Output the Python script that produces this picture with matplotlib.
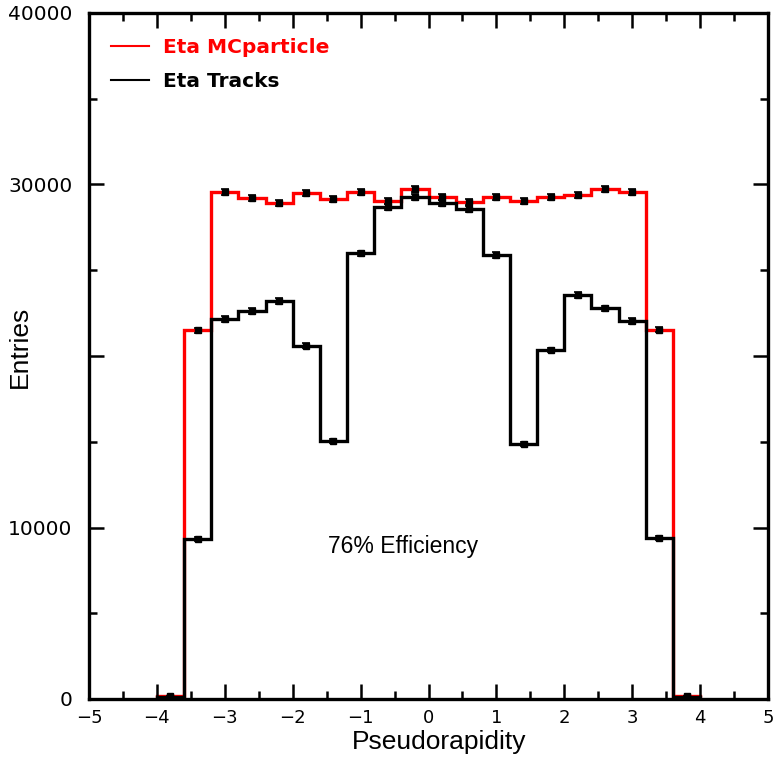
import numpy as np
import matplotlib
matplotlib.use("Agg")
import matplotlib.pyplot as plt
from matplotlib.ticker import MultipleLocator
from matplotlib.lines import Line2D

# bin edges in pseudorapidity (20 bins of 0.4)
edges = [-4.0, -3.6, -3.2, -2.8, -2.4, -2.0, -1.6, -1.2, -0.8, -0.4, 0.0,
         0.4, 0.8, 1.2, 1.6, 2.0, 2.4, 2.8, 3.2, 3.6, 4.0]

mc_counts = [150, 21500, 29540, 29200, 28900, 29490, 29160, 29540, 29060, 29720,
             29290, 29000, 29250, 29040, 29250, 29370, 29720, 29540, 21520, 150]
track_counts = [90, 9330, 22160, 22620, 23210, 20600, 15050, 25990, 28670, 29250,
                28900, 28550, 25890, 14860, 20350, 23560, 22780, 22040, 9390, 90]

ytick_vals = [0, 10000, 20000, 30000, 40000]
ytick_labels = ["0", "10000", "", "30000", "40000"]

edges = np.array(edges)
centers = 0.5 * (edges[:-1] + edges[1:])
mc = np.array(mc_counts, dtype=float)
tr = np.array(track_counts, dtype=float)

fig = plt.figure(figsize=(7.75, 7.57), dpi=100)
ax = fig.add_axes([89 / 775, 1 - 699 / 757, 679 / 775, 686 / 757])

ax.stairs(mc, edges, color="red", lw=2.4, baseline=0)
ax.stairs(tr, edges, color="black", lw=2.4, baseline=0)

ax.errorbar(centers, mc, yerr=np.sqrt(mc), fmt="s", color="black", ms=5,
            capsize=3, elinewidth=1.2, capthick=1.2)
ax.errorbar(centers, tr, yerr=np.sqrt(tr), fmt="s", color="black", ms=5,
            capsize=3, elinewidth=1.2, capthick=1.2)

ax.set_xlim(-5, 5)
ax.set_ylim(0, 40000)

ax.xaxis.set_major_locator(MultipleLocator(1))
ax.xaxis.set_minor_locator(MultipleLocator(0.5))
ax.set_yticks(ytick_vals)
ax.set_yticklabels(ytick_labels)
ax.yaxis.set_minor_locator(MultipleLocator(5000))

ax.tick_params(which="both", direction="in", top=True, right=True, width=1.8)
ax.tick_params(which="major", length=11)
ax.tick_params(which="minor", length=6)
ax.tick_params(axis="x", labelsize=13, pad=7)
ax.tick_params(axis="y", labelsize=14.5, pad=12)
for s in ax.spines.values():
    s.set_linewidth(2.4)

ax.set_xlabel("Pseudorapidity", fontsize=19, family="Liberation Sans")
ax.xaxis.set_label_coords(0.515, -0.045)
ax.set_ylabel("Entries", fontsize=19, family="Liberation Sans")
ax.yaxis.set_label_coords(-0.084, 0.513)

ax.text(-0.38, 8900, "76% Efficiency", fontsize=16.5, family="Liberation Sans",
        ha="center", va="center")

handles = [Line2D([], [], color="red", lw=1.5), Line2D([], [], color="black", lw=1.5)]
leg = ax.legend(handles, ["Eta MCparticle", "Eta Tracks"], loc="upper left",
                bbox_to_anchor=(0.005, 0.99), frameon=False,
                prop=dict(weight="bold", size=14.5), handlelength=1.9,
                handletextpad=0.7, labelspacing=0.75)
for txt, c in zip(leg.get_texts(), ["red", "black"]):
    txt.set_color(c)

fig.savefig("out.png", dpi=100)
